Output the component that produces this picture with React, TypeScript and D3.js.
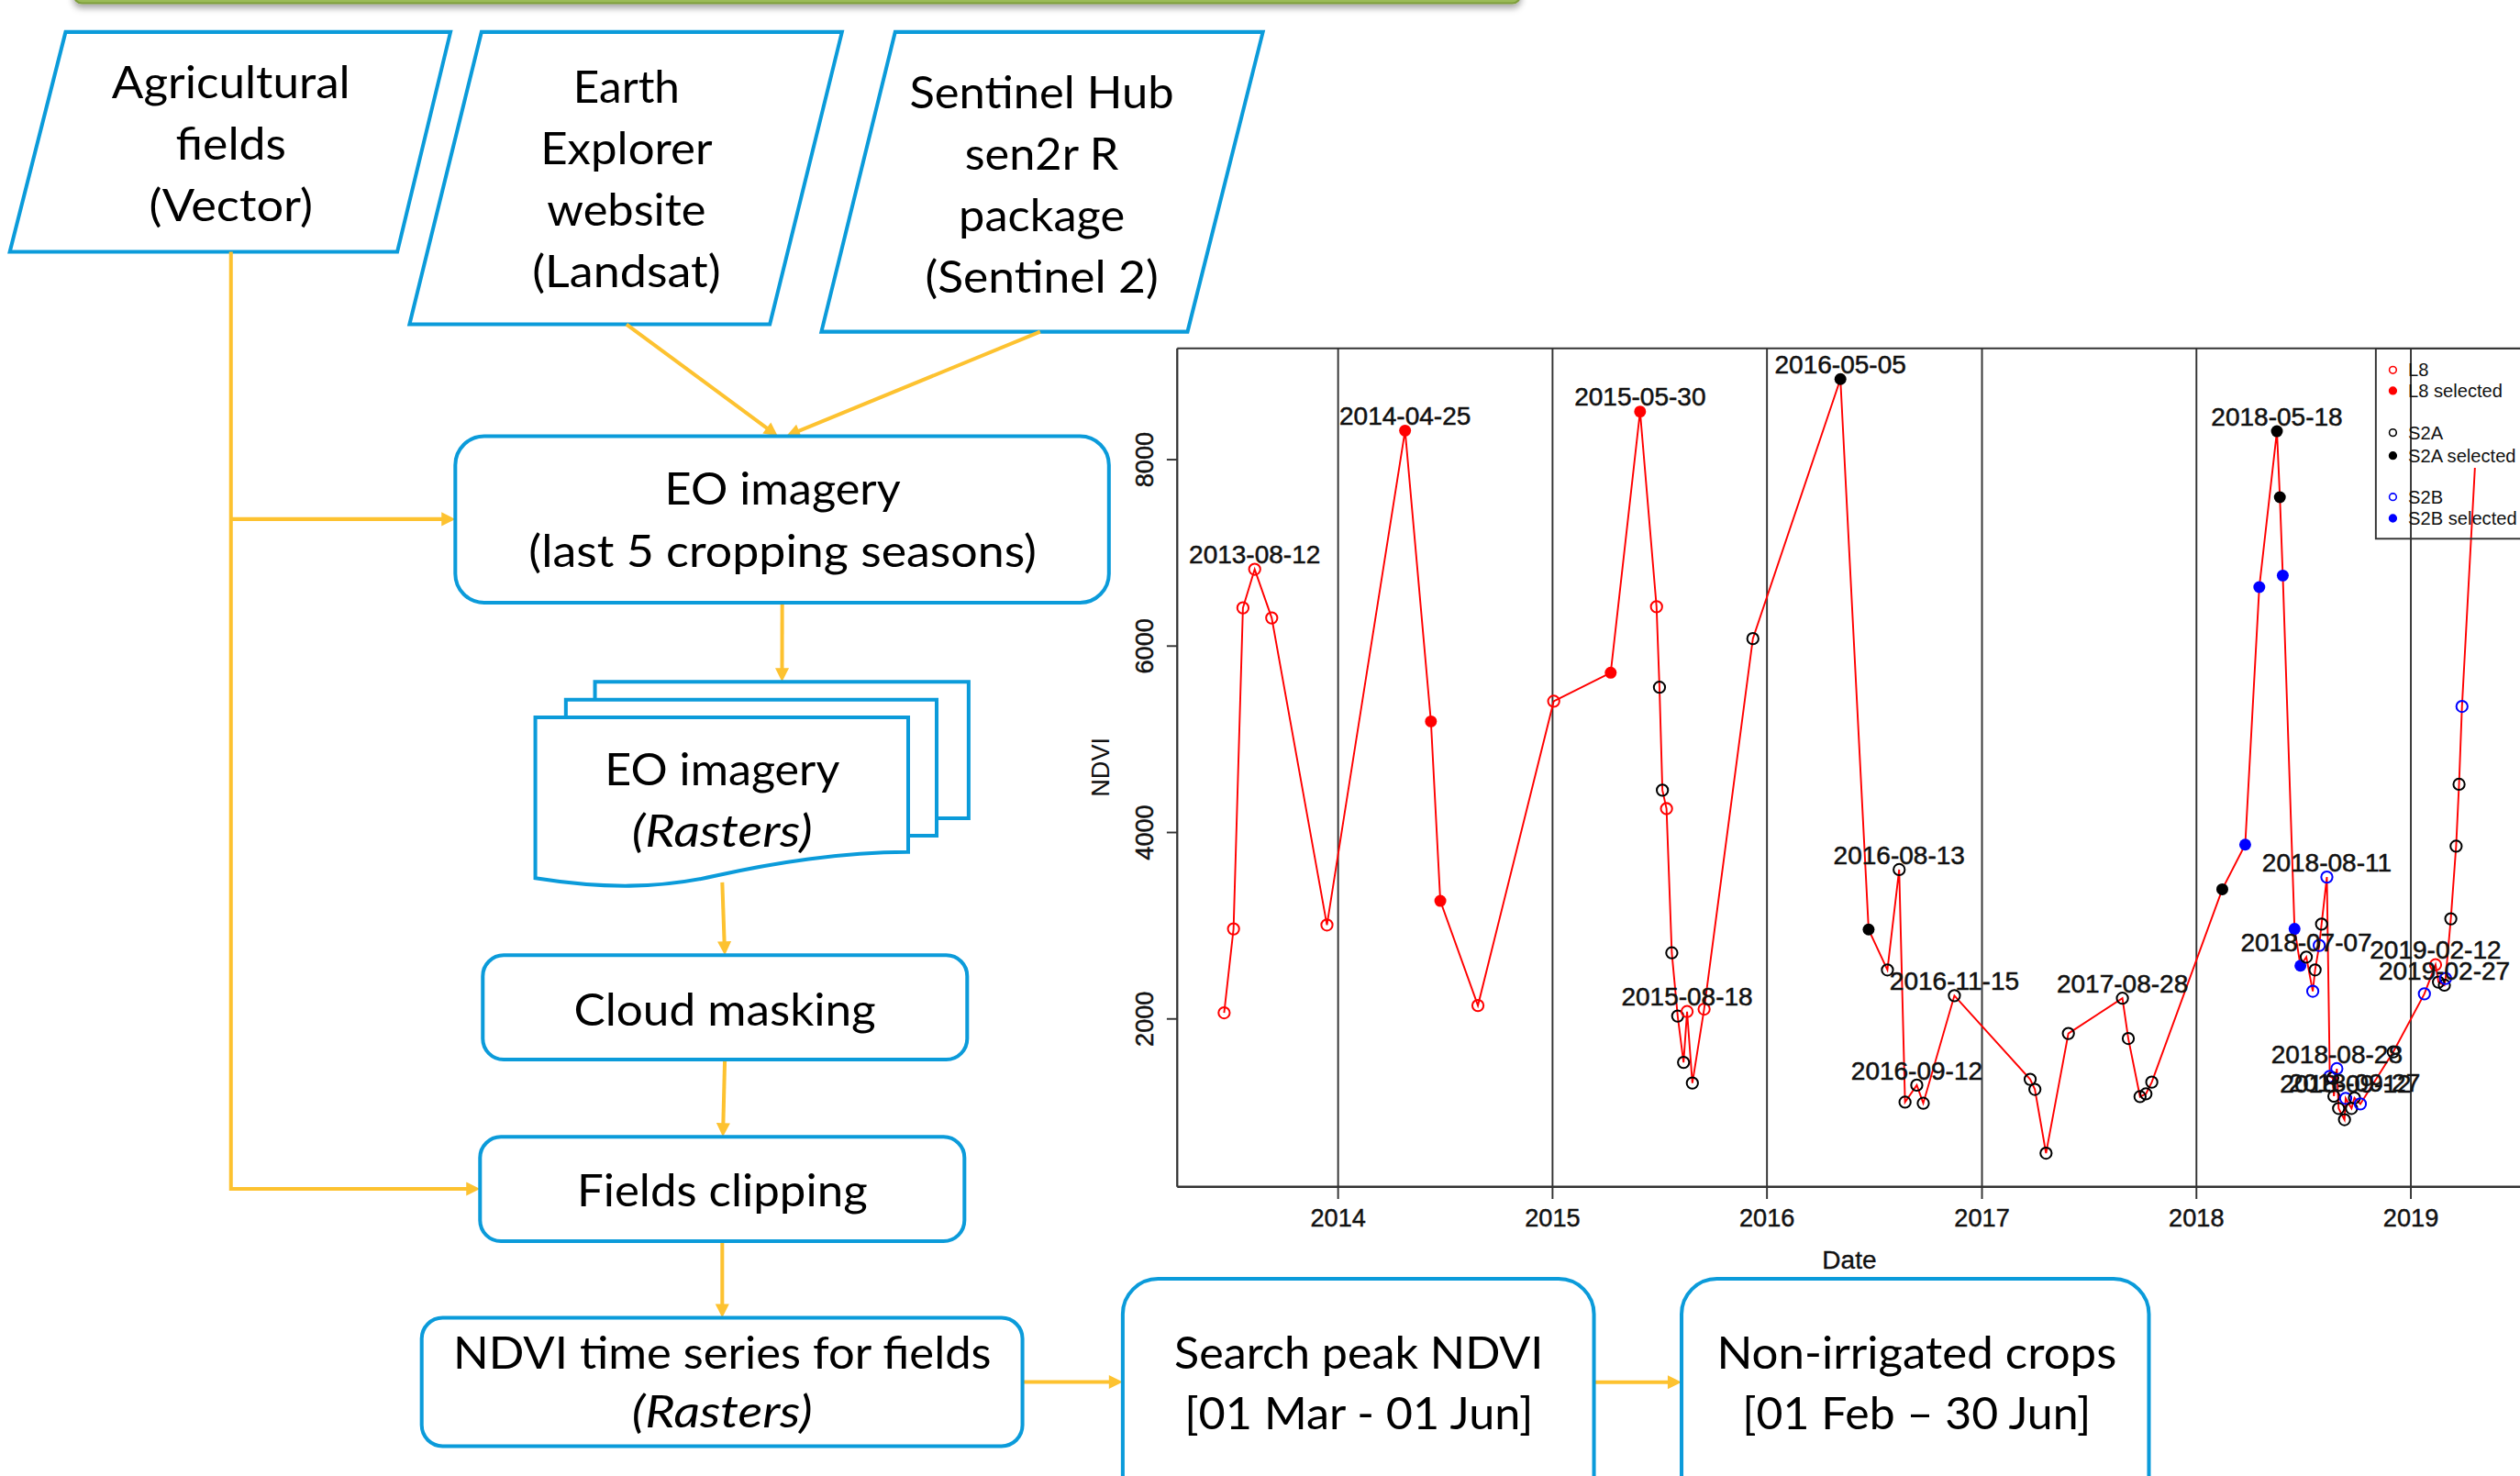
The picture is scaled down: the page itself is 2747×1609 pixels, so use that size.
import * as d3 from 'd3';
import React from 'react';

// ---- NDVI time series ----
const obsDates = [
  '2013-06-21', '2013-07-07', '2013-07-23', '2013-08-12', '2013-09-10', '2013-12-13',
  '2014-04-25', '2014-06-08', '2014-06-24', '2014-08-27',
  '2015-01-03', '2015-04-10', '2015-05-30', '2015-06-27', '2015-07-02', '2015-07-07',
  '2015-07-14', '2015-07-23', '2015-08-02', '2015-08-12', '2015-08-18', '2015-08-27',
  '2015-09-16', '2015-12-08',
  '2016-05-05', '2016-06-22', '2016-07-24', '2016-08-13', '2016-08-23', '2016-09-12',
  '2016-09-23', '2016-11-15',
  '2017-03-24', '2017-04-01', '2017-04-20', '2017-05-28', '2017-08-28', '2017-09-07',
  '2017-09-27', '2017-10-07', '2017-10-17',
  '2018-02-14', '2018-03-25', '2018-04-18', '2018-05-18', '2018-05-23', '2018-05-28',
  '2018-06-17', '2018-06-27', '2018-07-07', '2018-07-18', '2018-07-22', '2018-07-29',
  '2018-08-02', '2018-08-11', '2018-08-16', '2018-08-21', '2018-08-23', '2018-08-28',
  '2018-08-31', '2018-09-10', '2018-09-12', '2018-09-22', '2018-09-27', '2018-10-07',
  '2018-12-02',
  '2019-01-24', '2019-02-12', '2019-02-17', '2019-02-27', '2019-03-01', '2019-03-10',
  '2019-03-19', '2019-03-24', '2019-03-29', '2019-04-20'
];

const obsNdvi = [
  2066, 2966, 6410, 6824, 6302, 3008,
  8312, 5192, 3266, 2144,
  5408, 5714, 8516, 6422, 5558, 4454,
  4256, 2709, 2031, 1534, 2079, 1312,
  2105, 6080,
  8864, 2959, 2526, 3602, 1107, 1290,
  1095, 2250,
  1352, 1244, 560, 1844, 2222, 1790,
  1166, 1196, 1322,
  3391, 3870, 6633, 8305, 7597, 6757,
  2966, 2571, 2664, 2297, 2526, 2788,
  3017, 3522, 1384, 1367, 1171, 1466,
  1040, 919, 1148, 1040, 1153, 1088,
  1646,
  2269, 2581, 2395, 2362, 2434, 3074,
  3853, 4517, 5353, 7912
];

const obsSensor = [
  'L8', 'L8', 'L8', 'L8', 'L8', 'L8',
  'L8', 'L8', 'L8', 'L8',
  'L8', 'L8', 'L8', 'L8', 'S2A', 'S2A',
  'L8', 'S2A', 'S2A', 'S2A', 'L8', 'S2A',
  'L8', 'S2A',
  'S2A', 'S2A', 'S2A', 'S2A', 'S2A', 'S2A',
  'S2A', 'S2A',
  'S2A', 'S2A', 'S2A', 'S2A', 'S2A', 'S2A',
  'S2A', 'S2A', 'S2A',
  'S2A', 'S2B', 'S2B', 'S2A', 'S2A', 'S2B',
  'S2B', 'S2B', 'S2A', 'S2B', 'S2A', 'S2B',
  'S2A', 'S2B', 'S2B', 'S2A', 'S2A', 'S2B',
  'S2A', 'S2A', 'S2B', 'S2A', 'S2A', 'S2B',
  'S2A',
  'S2B', 'L8', 'S2A', 'S2A', 'S2B', 'S2A',
  'S2A', 'S2A', 'S2B', ''
];

// dates picked in the peak search window ("selected")
const selectedDates = [
  '2014-04-25', '2014-06-08', '2014-06-24',
  '2015-04-10', '2015-05-30',
  '2016-05-05', '2016-06-22',
  '2018-02-14', '2018-03-25', '2018-04-18', '2018-05-18', '2018-05-23', '2018-05-28',
  '2018-06-17', '2018-06-27'
];

// dates written above their point
const labelledDates = [
  '2013-08-12', '2014-04-25', '2015-05-30', '2015-08-18', '2016-05-05', '2016-08-13',
  '2016-09-12', '2016-11-15', '2017-08-28', '2018-05-18', '2018-07-07', '2018-08-11',
  '2018-08-28', '2018-09-12', '2018-09-27', '2019-02-12', '2019-02-27'
];

const yearTicks = [2014, 2015, 2016, 2017, 2018, 2019];
const ndviTicks = [2000, 4000, 6000, 8000];

const legendLabels = ['L8', 'L8 selected', 'S2A', 'S2A selected', 'S2B', 'S2B selected'];

const sensorColor: Record<string, string> = { L8: '#ff0000', S2A: '#000000', S2B: '#0000ff' };

// ---- flowchart texts ----
const inputTexts = [
  ['Agricultural', 'fields', '(Vector)'],
  ['Earth', 'Explorer', 'website', '(Landsat)'],
  ['Sentinel Hub', 'sen2r R', 'package', '(Sentinel 2)']
];

const BLUE = '#0B9BDA';
const YELLOW = '#FDC230';
const FONT = 'Lato, "Open Sans", sans-serif';
const RFONT = '"Liberation Sans", Arial, sans-serif';

type Pt = { date: Date; ndvi: number; sensor: string; selected: boolean; label: boolean; key: string };

function Arrow({ x1, y1, x2, y2 }: { x1: number; y1: number; x2: number; y2: number }) {
  const len = Math.hypot(x2 - x1, y2 - y1);
  const ux = (x2 - x1) / len;
  const uy = (y2 - y1) / len;
  const head = 8.6;
  const half = 4.3;
  const bx = x2 - ux * head;
  const by = y2 - uy * head;
  return (
    <g>
      <line x1={x1} y1={y1} x2={bx + ux * 1} y2={by + uy * 1} stroke={YELLOW} strokeWidth={2.3} />
      <polygon
        points={`${x2},${y2} ${bx - uy * half},${by + ux * half} ${bx + uy * half},${by - ux * half}`}
        fill={YELLOW}
      />
    </g>
  );
}

function BoxText({ x, y, text, width, italic }: { x: number; y: number; text: string; width: number; italic?: boolean }) {
  return (
    <text
      x={x}
      y={y}
      textAnchor="middle"
      fontFamily={FONT}
      fontSize={28}
      fontStyle={italic ? 'italic' : 'normal'}
      textLength={width}
      lengthAdjust="spacingAndGlyphs"
      fill="#000"
    >
      {text}
    </text>
  );
}

function Flowchart() {
  // geometry of the input parallelograms
  const para = [
    { pts: [[40.8, 19.9], [280.3, 19.9], [247.2, 156.7], [6.1, 156.7]], cx: 143.7, base: 61.2, step: 38.2, widths: [148.3, 68.8, 102] },
    { pts: [[299.6, 19.9], [523.9, 19.9], [479, 201.8], [254.8, 201.8]], cx: 389.8, base: 64.2, step: 38.1, widths: [66.3, 107, 98.9, 117.2] },
    { pts: [[557, 19.9], [785.8, 19.9], [738.9, 206.4], [511.1, 206.4]], cx: 648.2, base: 67.5, step: 38.2, widths: [164.6, 95.8, 103.4, 145.2] }
  ];

  return (
    <g>
      {/* green banner edge at the top */}
      <rect x={46} y={-30} width={900} height={32} rx={5} fill="#9BBB59" stroke="#7E9E3C" strokeWidth={1.2} filter="url(#shadow)" />

      {para.map((p, i) => (
        <g key={i}>
          <polygon points={p.pts.map((q) => q.join(',')).join(' ')} fill="#fff" stroke={BLUE} strokeWidth={2.3} />
          {inputTexts[i].map((t, j) => (
            <BoxText key={j} x={p.cx} y={p.base + j * p.step} text={t} width={p.widths[j]} />
          ))}
        </g>
      ))}

      {/* yellow connectors */}
      <polyline points="143.7,156.7 143.7,739.8 292,739.8" fill="none" stroke={YELLOW} strokeWidth={2.3} />
      <Arrow x1={290} y1={739.8} x2={298.7} y2={739.8} />
      <Arrow x1={143.7} y1={323} x2={283.3} y2={323} />
      <Arrow x1={389.8} y1={201.8} x2={484} y2={271.4} />
      <Arrow x1={647.2} y1={206.4} x2={489.2} y2={271.4} />
      <Arrow x1={486.7} y1={375} x2={486.6} y2={424.3} />
      <Arrow x1={449.4} y1={549} x2={451} y2={594.4} />
      <Arrow x1={451} y1={659.3} x2={449.8} y2={707.4} />
      <Arrow x1={449.4} y1={772.3} x2={449.4} y2={820} />
      <Arrow x1={636.2} y1={859.9} x2={698.6} y2={859.9} />
      <Arrow x1={991.8} y1={860} x2={1046.3} y2={860} />

      {/* EO imagery */}
      <rect x={283.3} y={271.4} width={406.7} height={103.6} rx={18} fill="#fff" stroke={BLUE} strokeWidth={2.3} />
      <BoxText x={487} y={313.9} text="EO imagery" width={146.8} />
      <BoxText x={487} y={352.9} text="(last 5 cropping seasons)" width={316} />

      {/* multi-document stack */}
      <polyline points="370.2,435.4 370.2,424.3 602.7,424.3 602.7,509.2 582.8,509.2" fill="#fff" stroke={BLUE} strokeWidth={2.3} />
      <polyline points="352.1,446.3 352.1,435.4 582.8,435.4 582.8,520 565.1,520" fill="#fff" stroke={BLUE} strokeWidth={2.3} />
      <path
        d="M333.1,446.3 H565.1 V530.1 C525,530 480,537 445,545 C410,553 375,553 333.1,546.4 Z"
        fill="#fff"
        stroke={BLUE}
        strokeWidth={2.3}
      />
      <BoxText x={449.4} y={488.5} text="EO imagery" width={146.1} />
      <BoxText x={449.4} y={526.8} text="(Rasters)" width={112.4} italic />

      <rect x={300.4} y={594.4} width={301.4} height={64.9} rx={13} fill="#fff" stroke={BLUE} strokeWidth={2.3} />
      <BoxText x={451} y={638.4} text="Cloud masking" width={188} />

      <rect x={298.7} y={707.4} width={301.4} height={64.9} rx={13} fill="#fff" stroke={BLUE} strokeWidth={2.3} />
      <BoxText x={449.4} y={750.6} text="Fields clipping" width={180.8} />

      <rect x={262.4} y={820} width={373.8} height={79.8} rx={13} fill="#fff" stroke={BLUE} strokeWidth={2.3} />
      <BoxText x={449.4} y={851.4} text="NDVI time series for fields" width={334.8} />
      <BoxText x={449.4} y={888} text="(Rasters)" width={112.4} italic />

      <rect x={698.6} y={795.7} width={293.2} height={170} rx={22} fill="#fff" stroke={BLUE} strokeWidth={2.3} />
      <BoxText x={845.5} y={851.4} text="Search peak NDVI" width={229.6} />
      <BoxText x={845.5} y={889.5} text="[01 Mar - 01 Jun]" width={217} />

      <rect x={1046.3} y={795.7} width={290.8} height={170} rx={22} fill="#fff" stroke={BLUE} strokeWidth={2.3} />
      <BoxText x={1192.6} y={851.4} text="Non-irrigated crops" width={248.8} />
      <BoxText x={1192.6} y={889.5} text="[01 Feb – 30 Jun]" width={217} />
    </g>
  );
}

function NdviChart() {
  const parse = d3.timeParse('%Y-%m-%d');
  const plot = { left: 732.5, top: 216.8, right: 1600, bottom: 738.5 };

  const x = d3
    .scaleTime()
    .domain([new Date(2014, 0, 1), new Date(2019, 0, 1)])
    .range([832.6, 1500.1]);
  const y = d3.scaleLinear().domain([0, 8000]).range([750, 286]);

  const points: Pt[] = obsDates.map((d, i) => ({
    date: parse(d)!,
    ndvi: obsNdvi[i],
    sensor: obsSensor[i],
    selected: selectedDates.includes(d),
    label: labelledDates.includes(d),
    key: d
  }));

  const line = d3
    .line<Pt>()
    .x((d) => x(d.date))
    .y((d) => y(d.ndvi));

  const legendX = 1478.3;
  const legendRows = [230.2, 243.1, 269.2, 283.5, 309.2, 322.5];

  return (
    <g>
      <defs>
        <clipPath id="plotClip">
          <rect x={plot.left} y={plot.top} width={plot.right - plot.left} height={plot.bottom - plot.top} />
        </clipPath>
      </defs>

      {/* year separators + x ticks */}
      {yearTicks.map((yr) => {
        const xv = x(new Date(yr, 0, 1));
        return (
          <g key={yr}>
            <line x1={xv} x2={xv} y1={plot.top} y2={746} stroke="#333" strokeWidth={1.1} />
            <text x={xv} y={763} textAnchor="middle" fontFamily={RFONT} fontSize={15.5} fill="#111" stroke="#111" strokeWidth={0.25}>
              {yr}
            </text>
          </g>
        );
      })}

      {/* plot frame */}
      <line x1={plot.left} x2={plot.right} y1={plot.top} y2={plot.top} stroke="#333" strokeWidth={1.1} />
      <line x1={plot.left} x2={plot.right} y1={plot.bottom} y2={plot.bottom} stroke="#333" strokeWidth={1.5} />
      <line x1={plot.left} x2={plot.left} y1={plot.top} y2={plot.bottom} stroke="#333" strokeWidth={1.3} />

      {/* y axis */}
      {ndviTicks.map((t) => (
        <g key={t}>
          <line x1={plot.left - 6.5} x2={plot.left} y1={y(t)} y2={y(t)} stroke="#333" strokeWidth={1.1} />
          <text
            transform={`translate(717.5,${y(t)}) rotate(-90)`}
            textAnchor="middle"
            fontFamily={RFONT}
            fontSize={15.5}
            fill="#111"
            stroke="#111"
            strokeWidth={0.25}
          >
            {t}
          </text>
        </g>
      ))}
      <text transform="translate(690,477.4) rotate(-90)" textAnchor="middle" fontFamily={RFONT} fontSize={15.5} fill="#111">
        NDVI
      </text>
      <text x={1150.7} y={789.6} textAnchor="middle" fontFamily={RFONT} fontSize={16} fill="#111" stroke="#111" strokeWidth={0.2}>
        Date
      </text>

      <g clipPath="url(#plotClip)">
        <path d={line(points) || ''} fill="none" stroke="#ff0000" strokeWidth={1.1} />
        {points
          .filter((p) => p.sensor !== '')
          .map((p) =>
            p.selected ? (
              <circle key={p.key} cx={x(p.date)} cy={y(p.ndvi)} r={3.7} fill={sensorColor[p.sensor]} />
            ) : (
              <circle
                key={p.key}
                cx={x(p.date)}
                cy={y(p.ndvi)}
                r={3.5}
                fill="none"
                stroke={sensorColor[p.sensor]}
                strokeWidth={1.15}
              />
            )
          )}
        {points
          .filter((p) => p.label)
          .map((p) => (
            <text
              key={'l' + p.key}
              x={x(p.date)}
              y={y(p.ndvi) - 3.6}
              textAnchor="middle"
              fontFamily={RFONT}
              fontSize={16}
              fill="#111"
              stroke="#111"
              strokeWidth={0.3}
            >
              {p.key}
            </text>
          ))}

        {/* legend */}
        <rect x={legendX} y={plot.top} width={200} height={335.2 - plot.top} fill="none" stroke="#333" strokeWidth={1.1} />
        {legendLabels.map((lab, i) => {
          const sensor = lab.split(' ')[0];
          const filled = lab.includes('selected');
          return (
            <g key={lab}>
              <circle
                cx={legendX + 10.6}
                cy={legendRows[i]}
                r={2.2}
                fill={filled ? sensorColor[sensor] : 'none'}
                stroke={sensorColor[sensor]}
                strokeWidth={0.9}
              />
              <text x={legendX + 20.1} y={legendRows[i] + 4.1} fontFamily={RFONT} fontSize={11.5} fill="#111">
                {lab}
              </text>
            </g>
          );
        })}
      </g>
    </g>
  );
}

export default function App() {
  return (
    <div>
      <style>{`body{margin:0;background:#fff}`}</style>
      <svg width={2747} height={1609} viewBox="0 0 1568 918.4" style={{ display: 'block' }}>
        <defs>
          <filter id="shadow" x="-5%" y="-50%" width="110%" height="250%">
            <feDropShadow dx={0} dy={2.5} stdDeviation={2} floodColor="#000" floodOpacity={0.35} />
          </filter>
        </defs>
        <rect x={0} y={0} width={1568} height={918.4} fill="#fff" />
        <Flowchart />
        <NdviChart />
      </svg>
    </div>
  );
}
